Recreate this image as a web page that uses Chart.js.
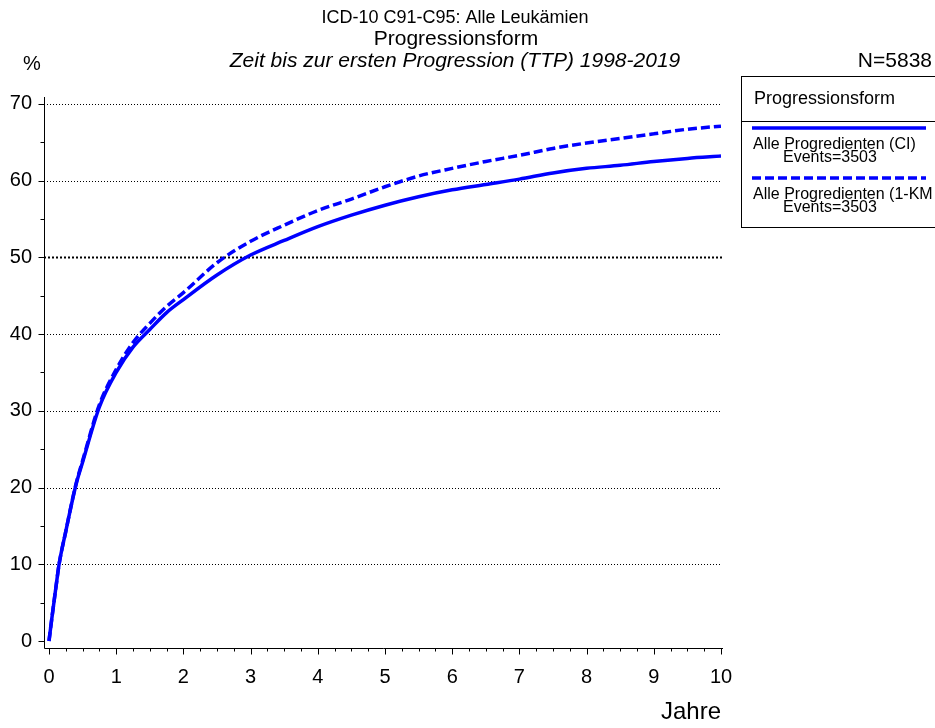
<!DOCTYPE html>
<html>
<head>
<meta charset="utf-8">
<title>Progressionsform</title>
<script src="https://cdn.jsdelivr.net/npm/chart.js@4"></script>
<style>
  html, body { margin: 0; padding: 0; background: #fff; }
  canvas { display: block; }
</style>
</head>
<body>
<canvas id="ttpChart" width="935" height="728"></canvas>
<script>
// Jahre seit Diagnose
const years = [0, 0.05, 0.1, 0.15, 0.25, 0.4, 0.5, 0.75, 1, 1.25, 1.5, 1.75, 2, 2.5, 3, 3.5, 4, 4.5, 5, 5.5, 6, 6.5, 7, 7.5, 8, 8.5, 9, 9.5, 10];

// Alle Progredienten (CI), %
const ciValues = [0, 3.5, 6.8, 10, 14.3, 20.3, 23.3, 30.5, 35, 38.3, 40.6, 42.8, 44.5, 47.7, 50.3, 52.2, 54, 55.5, 56.8, 57.9, 58.8, 59.5, 60.2, 61, 61.6, 62, 62.5, 62.9, 63.2];

// Alle Progredienten (1-KM), %
const kmValues = [0, 3.5, 6.8, 10, 14.3, 20.4, 23.5, 30.8, 35.4, 38.9, 41.4, 43.6, 45.4, 49.3, 52.1, 54.2, 56.1, 57.6, 59.2, 60.6, 61.6, 62.5, 63.3, 64.2, 64.9, 65.5, 66.1, 66.7, 67.1];

const xTicks = [0, 1, 2, 3, 4, 5, 6, 7, 8, 9, 10];
const yTicks = [0, 10, 20, 30, 40, 50, 60, 70];
const gridValues = [10, 20, 30, 40, 50, 60, 70];

const seriesNames = ["Alle Progredienten (CI)", "Alle Progredienten (1-KM"];
const eventCounts = [3503, 3503];

const FONT = "'Liberation Sans', Arial, Helvetica, sans-serif";
const BLUE = "#0000ff";

function toPoints(vals) {
    return years.map((t, i) => ({ x: t, y: vals[i] }));
}

// gridlines, axes, tick marks, titles and legend box
const decorations = {
    id: "decorations",
    beforeDatasetsDraw(chart) {
        const { ctx, scales: { x, y } } = chart;
        const left = chart.chartArea.left;
        const right = x.getPixelForValue(10) + 1;
        ctx.save();
        ctx.strokeStyle = "#000";
        gridValues.forEach(v => {
            const py = Math.round(y.getPixelForValue(v)) + 0.5;
            ctx.lineWidth = v === 50 ? 2 : 1;
            ctx.setLineDash(v === 50 ? [2, 2] : [1, 2]);
            ctx.beginPath();
            ctx.moveTo(left, py);
            ctx.lineTo(right, py);
            ctx.stroke();
        });
        ctx.restore();
    },
    afterDraw(chart) {
        const { ctx, chartArea, scales: { x, y } } = chart;
        const ax = Math.round(chartArea.left) + 0.5;
        const ay = Math.round(chartArea.bottom) + 0.5;
        ctx.save();
        ctx.strokeStyle = "#000";
        ctx.lineWidth = 1;
        ctx.setLineDash([]);

        // axis lines
        ctx.beginPath();
        ctx.moveTo(ax, chartArea.top);
        ctx.lineTo(ax, ay);
        ctx.lineTo(x.getPixelForValue(10) + 2, ay);
        ctx.stroke();

        // y tick marks (major 10, minor 5)
        for (let v = 0; v <= 70; v += 5) {
            const py = Math.round(y.getPixelForValue(v)) + 0.5;
            const len = v % 10 === 0 ? 6 : 4;
            ctx.beginPath();
            ctx.moveTo(ax - len, py);
            ctx.lineTo(ax, py);
            ctx.stroke();
        }
        // x tick marks (major 1, minor 0.25)
        for (let i = 0; i <= 40; i++) {
            const t = i / 4;
            const px = Math.round(x.getPixelForValue(t)) + 0.5;
            const len = i % 4 === 0 ? 6 : 3;
            ctx.beginPath();
            ctx.moveTo(px, ay);
            ctx.lineTo(px, ay + len);
            ctx.stroke();
        }

        // titles
        ctx.fillStyle = "#000";
        ctx.textBaseline = "middle";
        ctx.textAlign = "center";
        ctx.font = "18px " + FONT;
        ctx.fillText("ICD-10 C91-C95: Alle Leukämien", 455, 18);
        ctx.font = "21px " + FONT;
        ctx.fillText("Progressionsform", 456, 39);
        ctx.font = "italic 21px " + FONT;
        ctx.fillText("Zeit bis zur ersten Progression (TTP) 1998-2019", 455, 61);
        ctx.textAlign = "left";
        ctx.font = "20px " + FONT;
        ctx.fillText("%", 23, 64);
        ctx.textAlign = "right";
        ctx.font = "21px " + FONT;
        ctx.fillText("N=5838", 932, 61);
        ctx.font = "24px " + FONT;
        ctx.fillText("Jahre", 721, 712);

        // legend box
        ctx.lineWidth = 1;
        ctx.strokeRect(741.5, 76.5, 200, 151);
        ctx.beginPath();
        ctx.moveTo(741, 121.5);
        ctx.lineTo(935, 121.5);
        ctx.stroke();
        ctx.textAlign = "left";
        ctx.font = "18px " + FONT;
        ctx.fillText("Progressionsform", 754, 99);

        const rows = [128, 178];
        chart.data.datasets.forEach((ds, i) => {
            const ly = rows[i];
            ctx.strokeStyle = ds.borderColor;
            ctx.lineWidth = ds.borderWidth;
            ctx.setLineDash(ds.borderDash || []);
            ctx.beginPath();
            ctx.moveTo(752, ly);
            ctx.lineTo(926, ly);
            ctx.stroke();
            ctx.setLineDash([]);
            ctx.fillStyle = "#000";
            ctx.font = "16px " + FONT;
            ctx.fillText(seriesNames[i], 753, ly + 17);
            ctx.fillText("Events=" + eventCounts[i], 783, ly + 30);
        });
        ctx.restore();
    }
};

const ctx = document.getElementById("ttpChart").getContext("2d");
new Chart(ctx, {
    type: "line",
    data: {
        datasets: [
            {
                label: seriesNames[0],
                data: toPoints(ciValues),
                borderColor: BLUE,
                borderWidth: 3.5,
                pointRadius: 0,
                fill: false,
                cubicInterpolationMode: "monotone"
            },
            {
                label: seriesNames[1],
                data: toPoints(kmValues),
                borderColor: BLUE,
                borderWidth: 3.5,
                borderDash: [9, 4],
                pointRadius: 0,
                fill: false,
                cubicInterpolationMode: "monotone"
            }
        ]
    },
    options: {
        responsive: false,
        animation: false,
        layout: { padding: { left: 0, top: 97, right: 214, bottom: 0 } },
        plugins: {
            legend: { display: false },
            tooltip: { enabled: false }
        },
        scales: {
            x: {
                type: "linear",
                min: -0.0744,
                max: 10,
                afterBuildTicks: s => { s.ticks = xTicks.map(v => ({ value: v })); },
                afterFit: s => { s.height = 80; },
                grid: { display: false },
                border: { display: false },
                ticks: {
                    autoSkip: false,
                    maxRotation: 0,
                    padding: 9,
                    color: "#000",
                    font: { family: FONT, size: 20 }
                }
            },
            y: {
                min: -0.91,
                max: 70.9,
                afterBuildTicks: s => { s.ticks = yTicks.map(v => ({ value: v })); },
                afterFit: s => { s.width = 44; },
                grid: { display: false },
                border: { display: false },
                ticks: {
                    padding: 4,
                    color: "#000",
                    font: { family: FONT, size: 20 }
                }
            }
        }
    },
    plugins: [decorations]
});
</script>
</body>
</html>
